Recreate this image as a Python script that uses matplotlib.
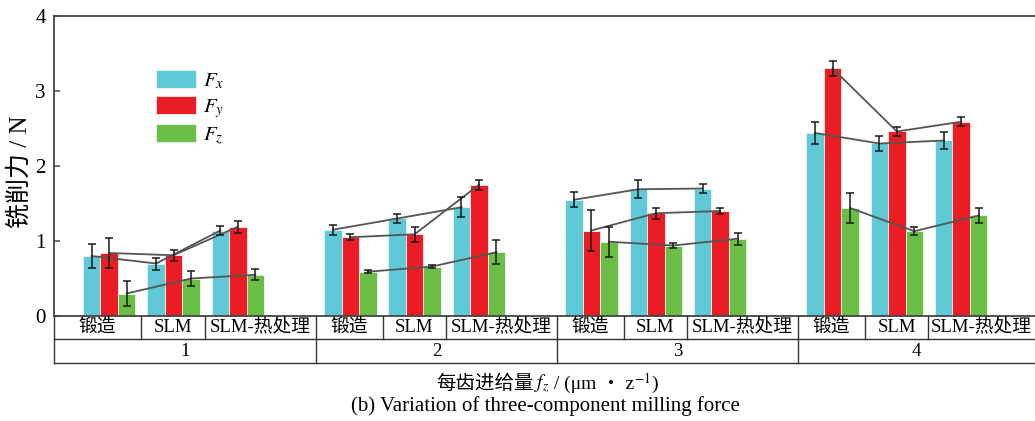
import matplotlib
matplotlib.use("Agg")
import matplotlib.pyplot as plt
import matplotlib.patches as mpatches
import numpy as np

plt.rcParams.update({
    "font.family": ["Liberation Serif", "Noto Sans CJK SC"],
    "mathtext.fontset": "stix",
    "axes.unicode_minus": False,
})

# ── Data ─────────────────────────────────────────────────────────────────────
feeds     = ["1", "2", "3", "4"]
materials = ["锻造", "SLM", "SLM-热处理"]
comp_labels = [r"$F_x$", r"$F_y$", r"$F_z$"]

# rows: feed per tooth, columns: material
fx     = [[0.80, 0.70, 1.14], [1.15, 1.30, 1.45], [1.55, 1.69, 1.70], [2.44, 2.30, 2.34]]
fx_err = [[0.16, 0.08, 0.06], [0.07, 0.06, 0.13], [0.10, 0.12, 0.06], [0.15, 0.105, 0.11]]
fy     = [[0.84, 0.81, 1.19], [1.05, 1.09, 1.75], [1.14, 1.37, 1.40], [3.30, 2.46, 2.59]]
fy_err = [[0.20, 0.07, 0.08], [0.04, 0.10, 0.065], [0.27, 0.075, 0.035], [0.095, 0.06, 0.06]]
fz     = [[0.30, 0.50, 0.55], [0.59, 0.66, 0.85], [0.99, 0.94, 1.03], [1.44, 1.13, 1.34]]
fz_err = [[0.17, 0.10, 0.075], [0.02, 0.02, 0.16], [0.20, 0.03, 0.08], [0.20, 0.055, 0.10]]

FX_COLOR = "#5FC9D8"
FY_COLOR = "#EC1C24"
FZ_COLOR = "#6ABD45"
colors = [FX_COLOR, FY_COLOR, FZ_COLOR]

GROUP_PITCH = 3.75
BAR_W = 0.272


def chained_text(fig, x_center, y, pieces, **kw):
    """Lay out text pieces side by side (lets CJK and mathtext share a line)."""
    renderer = fig.canvas.get_renderer()
    texts, x = [], 0.0
    for p in pieces:
        t = fig.text(x, y, p, ha="left", va="baseline", **kw)
        x += t.get_window_extent(renderer).width / fig.bbox.width
        texts.append(t)
    shift = x_center - x / 2
    for t in texts:
        px, py = t.get_position()
        t.set_position((px + shift, py))


fig = plt.figure(figsize=(10.35, 4.21), dpi=100)
ax = fig.add_axes([54 / 1035, 105 / 421, 981 / 1035, 300 / 421])

series = [(fx, fx_err), (fy, fy_err), (fz, fz_err)]
for c, (vals, errs) in enumerate(series):
    for g in range(len(feeds)):
        xs = g * GROUP_PITCH + np.arange(len(materials)) + (c - 1) * BAR_W
        ax.bar(xs, vals[g], BAR_W, color=colors[c], edgecolor="#f2f2f2",
               linewidth=0.6, zorder=2)
        ax.plot(xs, vals[g], color="#555555", lw=1.3, zorder=3)
        ax.errorbar(xs, vals[g], yerr=errs[g], fmt="none", ecolor="#1a1a1a",
                    elinewidth=1.1, capsize=2.8, capthick=1.1, zorder=4)

x_left, x_right = -0.859, -0.859 + 981 / 64.3
ax.set_xlim(x_left, x_right)
ax.set_ylim(0, 4)
ax.set_yticks([0, 1, 2, 3, 4])
ax.set_xticks([])
ax.tick_params(axis="y", direction="in", length=4, width=1.1, labelsize=15,
               color="#444444", pad=6)
for side in ["left", "top", "bottom"]:
    ax.spines[side].set_color("#444444")
    ax.spines[side].set_linewidth(1.3)
ax.spines["right"].set_visible(False)

# ── Two-row category table under the axis ──────────────────────────────────
row1, row2 = -23 / 75, -47 / 75
lk = dict(color="#333333", lw=1.0, clip_on=False, zorder=5)
ax.plot([x_left, x_right], [row1, row1], **lk)
ax.plot([x_left, x_right], [row2, row2], **lk)
ax.plot([x_left, x_left], [0, row2], **lk)

for g in range(len(feeds)):
    base = g * GROUP_PITCH
    g_lo = x_left if g == 0 else base - 0.535
    g_hi = x_right if g == len(feeds) - 1 else base + GROUP_PITCH - 0.535
    if g > 0:
        ax.plot([g_lo, g_lo], [0, row2], **lk)
    cuts = [g_lo, base + 0.5, base + 1.49, g_hi]
    for cx in cuts[1:3]:
        ax.plot([cx, cx], [0, row1], **lk)
    for m, name in enumerate(materials):
        ax.text((cuts[m] + cuts[m + 1]) / 2, row1 / 2, name, ha="center",
                va="center", fontsize=13.5, clip_on=False)
    ax.text((g_lo + g_hi) / 2, (row1 + row2) / 2, feeds[g], ha="center",
            va="center", fontsize=13.5, clip_on=False)

# ── Legend ───────────────────────────────────────────────────────────────────
handles = [mpatches.Patch(facecolor=col, edgecolor="#f2f2f2", lw=0.6, label=lab)
           for col, lab in zip(colors, comp_labels)]
ax.legend(handles=handles, loc="upper left", bbox_to_anchor=(0.104, 0.82),
          frameon=False, fontsize=15, handlelength=1.9, handleheight=0.95,
          labelspacing=0.22, handletextpad=0.35, borderpad=0, borderaxespad=0)

fig.text(20 / 1035, 1 - 172 / 421, "铣削力 / N", rotation=90, ha="center",
         va="center", fontsize=18)

chained_text(fig, 547 / 1035, 1 - 389 / 421,
             ["每齿进给量", r"$f_z$", " / (μm ・ z", r"$^{-1}$", ")"],
             fontsize=14)
fig.text(545 / 1035, 1 - 406 / 421,
         "(b) Variation of three-component milling force",
         ha="center", va="center", fontsize=15)

fig.savefig("out.png", dpi=100)
